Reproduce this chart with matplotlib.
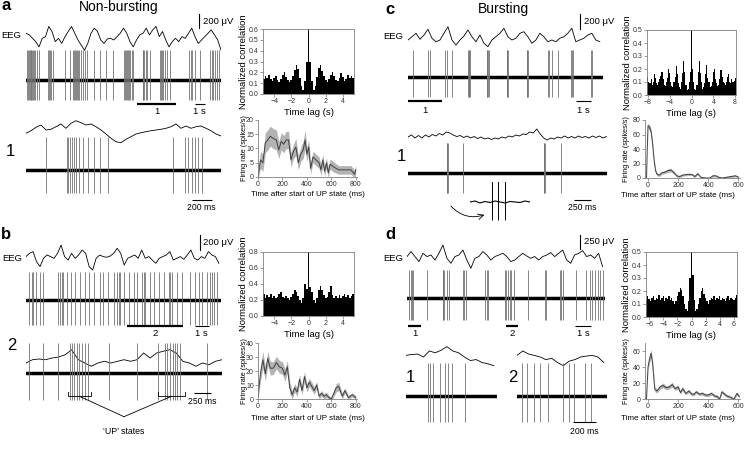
import numpy as np
import matplotlib
matplotlib.use("Agg")
import matplotlib.pyplot as plt

plt.rcParams['font.family'] = ['Liberation Sans', 'DejaVu Sans']

# ---------------- data ----------------
# EEG traces (uV), sampled every dt
eeg_a_top = [80, 57, 10, -37, -110, 10, 33, 176, 105, -37, 10, -62, 33, 105, 176, 80, -14, -86, -157, -62,
             80, 152, 105, -14, -62, 0, 10, -14, 33, 80, 152, 80, -37, -110, -14, 57, 80, 152, 57, 128,
             176, 33, 105, -14, -110, -37, 10, -37, 33, 10, 80, 152, 33, -62, -14, 33, 80, 128, 57, -14, -157]
eeg_a_low = [-46, -10, 38, 70, 0, 10, 46, 84, 24, 94, 130, 102, 70, 84, 46, 0, -56, -116, -164, -178,
             -130, -94, -56, -38, -24, -10, 0, 10, 24, 46, 84, 24, 56, 24, 46, 56, 24, -10, -56, -84]
eeg_b_top = [24, 70, 94, -46, -116, 0, 46, 24, 0, 70, 186, 24, -24, 70, 0, 46, 116, 70, -116, -164,
             0, 46, 24, 14, 32, 70, 140, 70, -94, 0, 24, 46, 0, 116, 0, 24, -24, -70, 0, 24,
             46, 94, -24, 0, 24, -14, 46, 116, 0, -24, 24, 0, 94, 46, 24, -70]
eeg_b_low = [-70, -24, -14, -24, 0, 14, 46, 116, -24, -70, -116, -70, -46, -70, -46, -24, -46, -24, 70, 0,
             70, 94, 116, 70, -46, -70, -116, -70, -94, -46, -24]
eeg_c_top = [-28, 18, 66, -18, 42, 122, -4, -52, -28, 66, 158, -28, -98, -28, 28, 112, 18, -52, 42, -74,
             -122, -28, 18, 66, 136, 18, -28, -4, 66, 88, 18, -74, -28, 66, 18, -52, -28, -52, -4, 18,
             66, 136, -52, -28, -4, 42, 66, -28, -52]
eeg_c_low = [0, 28, -14, 21, -14, 28, 0, 35, 14, 49, 28, 70, 56, 28, 7, 21, -7, 14, -14, 7,
             -21, 0, -28, -14, -35, -14, -28, 0, -14, 14, 0, 28, 14, 42, 35, 70, 56, 112, 42, -14,
             -42, -14, -28, 0, -14, 14, -14, 7, -14, 14, -7, 7, -14, 14, -7, 14, -14, 7]
eeg_d_top = [31, 121, 31, -59, 90, 31, 59, -31, 90, 239, 0, -90, 31, 59, 149, -31, -180, 0, 31, 121,
             59, -31, 31, 59, 90, 31, -59, -31, 31, 90, 41, 0, 31, -31, 31, 59, 103, 31, 90, 149,
             -31, -90, 59, 90, 139, 31, 59, 0, 90, -149]
eeg_d_low1 = [41, 54, 59, 18, 103, 77, 113, 162, 103, 77, 18, -31, -18, -59, -77, -103]
eeg_d_low2 = [41, 103, 59, 41, 18, -18, 0, -59, -103, -41, -18, 18, 31, 41, 18, -59]

# spike times (s for top traces, ms for expanded traces)
spk_a_top = [0.15, 0.25, 0.32, 0.4, 0.48, 0.55, 0.62, 0.72, 0.8, 0.95, 1.1, 1.3, 2.3, 2.4, 2.5, 2.6, 2.75,
             4.0, 4.5, 4.8, 4.9, 5.0, 5.1, 5.2, 5.3, 5.45, 5.6, 5.8, 6.0, 6.3, 7.0, 7.6, 8.2, 8.9,
             10.1, 10.2, 10.3, 10.4, 10.5, 10.6, 10.7, 10.85, 11.0, 11.95, 12.05, 12.15, 12.3, 12.45, 12.7,
             13.75, 13.85, 13.95, 14.1, 14.25, 14.5, 14.8, 16.75, 16.9, 17.05, 17.3, 17.85,
             18.9, 19.05, 19.2, 19.4, 19.6, 19.75]
spk_a_low = [197, 407, 423, 440, 457, 477, 497, 530, 573, 623, 683, 740, 823,
             1467, 1590, 1623, 1657, 1690, 1723, 1757]
spk_b_top = [0.24, 0.40, 0.52, 0.71, 1.0, 1.24, 2.31, 2.43, 2.55, 2.67, 2.90, 3.19, 3.50, 3.86, 4.21,
             4.52, 4.86, 5.29, 5.52, 5.88, 6.24, 6.48, 6.6, 6.71, 7.0, 7.31, 7.67, 7.9, 8.26, 8.38, 8.5,
             8.81, 9.1, 9.45, 9.81, 10.17, 10.29, 10.4, 10.76, 11.12, 11.71, 12.02, 12.31, 12.55,
             12.9, 13.1, 13.26, 13.38, 13.62]
spk_b_low = [51, 265, 495, 673, 699, 735, 776, 816, 852, 903, 954, 1276, 1694,
             2026, 2128, 2163, 2204, 2245, 2281, 2316, 2357, 2776]
spk_c_top = [0.33, 1.27, 1.375, 2.31, 2.46, 2.73, 3.76, 3.8, 3.84, 3.88, 4.92, 4.96, 5.0, 5.04,
             6.17, 6.21, 6.25, 7.42, 7.46, 7.5, 8.79, 8.83, 8.98, 9.4, 10.2, 10.24, 10.33, 11.46, 11.5]
spk_c_low = [555, 565, 575, 784, 1950, 1960, 1970, 2192]
spk_c_inset = [21.7, 28.3, 35.3]
inset_noise = [0, 1, -1, 0.5, -0.5, 1, 0, -1, 0.5, 0, -0.5, 1, 0]
spk_d_top = [0.146, 0.23, 0.31, 0.40, 1.27, 2.23, 2.26, 2.29, 2.48, 2.65, 3.52, 3.6, 3.69, 4.88, 4.98,
             5.08, 6.13, 6.23, 6.33, 6.44, 6.54, 6.69, 7.58, 8.625, 8.73, 9.56, 9.67, 9.77, 10.6,
             11.23, 11.44, 11.6, 11.77, 11.94, 12.1, 12.27]
spk_d_low1 = [191, 206, 229, 291, 334, 363, 391, 506]
spk_d_low2 = [43, 86, 143, 200, 266, 394, 451, 491, 586, 643]

# autocorrelograms, 0.2 s bins
acg_a = [0.14, 0.17, 0.15, 0.18, 0.14, 0.12, 0.15, 0.17, 0.13, 0.11, 0.14, 0.18, 0.2, 0.16, 0.13, 0.11,
         0.13, 0.17, 0.22, 0.27, 0.23, 0.15, 0.07, 0.04, 0.12, 0.3, 0.6, 0.3, 0.12, 0.04, 0.07, 0.16,
         0.24, 0.27, 0.21, 0.17, 0.13, 0.11, 0.14, 0.18, 0.2, 0.17, 0.13, 0.12, 0.15, 0.19, 0.16, 0.12,
         0.14, 0.18, 0.15, 0.17, 0.15]
acg_b = [0.28, 0.22, 0.26, 0.24, 0.27, 0.23, 0.25, 0.22, 0.24, 0.27, 0.3, 0.24, 0.22, 0.25, 0.23, 0.2,
         0.24, 0.28, 0.32, 0.3, 0.25, 0.2, 0.16, 0.22, 0.4, 0.34, 0.8, 0.36, 0.3, 0.2, 0.16, 0.22,
         0.32, 0.38, 0.33, 0.26, 0.22, 0.24, 0.3, 0.38, 0.26, 0.22, 0.25, 0.23, 0.26, 0.22, 0.25, 0.28,
         0.24, 0.26, 0.22, 0.25, 0.27]
acg_c = [0.14, 0.1, 0.09, 0.12, 0.08, 0.1, 0.16, 0.13, 0.09, 0.08, 0.1, 0.12, 0.15, 0.18, 0.12, 0.08,
         0.07, 0.1, 0.13, 0.2, 0.17, 0.1, 0.07, 0.06, 0.1, 0.14, 0.22, 0.16, 0.09, 0.06, 0.05, 0.1,
         0.17, 0.26, 0.18, 0.08, 0.04, 0.05, 0.1, 0.18, 0.5, 0.2, 0.1, 0.05, 0.04, 0.08, 0.18, 0.26,
         0.17, 0.1, 0.05, 0.06, 0.09, 0.16, 0.23, 0.13, 0.1, 0.06, 0.07, 0.1, 0.18, 0.2, 0.12, 0.09,
         0.07, 0.08, 0.12, 0.19, 0.14, 0.1, 0.09, 0.08, 0.1, 0.14, 0.16, 0.1, 0.09, 0.12, 0.1, 0.11, 0.13]
acg_d = [0.15, 0.13, 0.16, 0.14, 0.12, 0.15, 0.16, 0.13, 0.15, 0.14, 0.17, 0.13, 0.15, 0.16, 0.12, 0.15,
         0.14, 0.16, 0.13, 0.15, 0.12, 0.1, 0.12, 0.16, 0.19, 0.22, 0.21, 0.16, 0.1, 0.06, 0.05, 0.12,
         0.3, 0.5, 0.32, 0.13, 0.05, 0.06, 0.1, 0.15, 0.2, 0.22, 0.18, 0.15, 0.12, 0.1, 0.13, 0.15,
         0.14, 0.16, 0.13, 0.15, 0.14, 0.16, 0.13, 0.15, 0.14, 0.12, 0.15, 0.16, 0.13, 0.15, 0.14, 0.13,
         0.15, 0.17, 0.16]
acg_start = {'a': -5.2, 'b': -5.2, 'c': -8.0, 'd': -6.6}

# firing rate after UP-state onset: time (ms), mean, sem (spikes/s)
fr_a_t = [0, 20, 40, 60, 80, 100, 125, 150, 170, 190, 210, 230, 250, 270, 290, 310, 330, 350, 370, 385,
          400, 415, 430, 450, 475, 500, 515, 530, 545, 560, 575, 590, 620, 660, 700, 760, 790, 800]
fr_a_m = [0, 6, 5, 12, 13, 14.3, 13.5, 13, 9.5, 12.5, 11.5, 13, 13, 6, 9, 10.5, 5, 8, 9.5, 13,
          8, 10.5, 3, 7, 6, 5, 2.5, 6, 2, 5, 1.5, 4.5, 3.5, 2.5, 2.5, 2.5, 1, 2.5]
fr_a_s = [1, 3, 3, 3.5, 3.5, 3.5, 3.5, 3.5, 3, 3, 3, 3, 3, 2.5, 2.5, 3, 2.5, 2.5, 3, 3.5,
          2.5, 2.5, 2, 2, 2, 2, 2, 2, 1.8, 1.8, 1.8, 1.8, 1.8, 1.5, 1.5, 1.5, 1.5, 1.5]
fr_b_t = [0, 20, 40, 60, 80, 100, 125, 150, 175, 200, 220, 240, 260, 280, 300, 320, 340, 360, 380, 400,
          420, 440, 460, 480, 500, 520, 540, 560, 580, 600, 640, 660, 690, 710, 740, 770, 800]
fr_b_m = [2, 18, 28, 18, 29, 22, 22, 26, 23, 22, 17, 23, 8, 3, 8, 5, 14, 6, 16, 8,
          12, 9, 6, 10, 2, 4, 2, 3, 1, 0, 8, 9, 2, 6, 1, 3, 1]
fr_b_s = [2, 5, 6, 5, 5, 5, 4.5, 4.5, 4.5, 4.5, 4.5, 4.5, 4, 3, 3, 3, 3.5, 3, 3.5, 3,
          3, 3, 2.5, 2.5, 2, 2, 2, 2, 1.5, 1.5, 3, 3, 2, 2, 1.5, 1.5, 1.5]
fr_c_t = [-10, -5, 0, 10, 20, 30, 40, 50, 60, 75, 90, 110, 130, 150, 170, 190, 210, 230, 260, 290,
          310, 330, 350, 380, 410, 430, 450, 470, 490, 520, 550, 580, 600]
fr_c_m = [0, 40, 72, 70, 64, 48, 25, 10, 5, 4, 7, 8, 10, 11, 8, 3, 2, 4, 5, 5,
          2, 6, 1, 0, 0, 3, 3, 1, 0, 1, 2, 3, 1]
fr_c_s = [0, 3, 4, 4, 4, 3.5, 3, 2.5, 2, 2, 2, 2, 2.5, 2.5, 2, 1.5, 1.5, 1.5, 1.5, 1.5,
          1.5, 1.5, 1, 1, 1, 1.5, 1.5, 1, 1, 1, 1.5, 1.5, 1]
fr_d_t = [-10, 0, 10, 20, 30, 45, 60, 80, 100, 120, 140, 160, 180, 200, 215, 230, 250, 270, 290, 305,
          320, 340, 360, 380, 400, 420, 440, 460, 475, 490, 520, 550, 570, 590, 605]
fr_d_m = [0, 40, 50, 57, 45, 12, 10, 15, 17, 14, 15, 18, 13, 15, 8, 13, 7, 10, 6, 6,
          9, 6, 7, 5, 5, 7, 4, 3, 0, 9, 4, 2, 0, 7, 3]
fr_d_s = [0, 4, 5, 5, 4, 3, 2.5, 2.5, 3, 2.5, 2.5, 3, 2.5, 2.5, 2, 2.5, 2, 2, 2, 2,
          2, 2, 2, 2, 2, 2, 2, 2, 1.5, 2, 2, 1.5, 1.5, 2, 1.5]

# ---------------- layout helpers (pixel boxes) ----------------
W, H = 747, 457
fig = plt.figure(figsize=(W / 100, H / 100), dpi=100)


def box(x0, y0, x1, y1):
    return fig.add_axes([x0 / W, 1 - y1 / H, (x1 - x0) / W, (y1 - y0) / H])


def ftext(x, y, s, **kw):
    kw.setdefault('va', 'center')
    fig.text(x / W, 1 - y / H, s, **kw)


def eeg_trace(x0, x1, yc, T, vals, dt, uv_px=14):
    ax = box(x0, yc - 30, x1, yc + 30)
    ax.set_xlim(0, T)
    ax.set_ylim(-30 * uv_px, 30 * uv_px)
    ax.axis('off')
    ax.plot(np.arange(len(vals)) * dt, vals, color='k', lw=0.6)
    return ax


def spike_trace(x0, x1, yb, T, times, up=30, down=20):
    ax = box(x0, yb - 40, x1, yb + 40)
    ax.set_xlim(0, T)
    ax.set_ylim(-40, 40)
    ax.axis('off')
    ax.axhline(0, color='k', lw=2.5)
    ax.vlines(times, -down, up, color='0.45', lw=0.6)
    return ax


def hbar(ax, t0, length, y, label, lw=0.8, dy=8, fs=6.8):
    ax.plot([t0, t0 + length], [y, y], color='k', lw=lw, clip_on=False, solid_capstyle='butt')
    ax.text(t0 + length / 2, y - dy, label, ha='center', va='center', fontsize=fs)


def vbar(ax, t, lo, hi, label):
    ax.plot([t, t], [lo, hi], color='k', lw=0.8, clip_on=False)
    ax.text(t + (ax.get_xlim()[1] * 0.018), (lo + hi) / 2, label, ha='left', va='center', fontsize=6.8)


def style(ax):
    ax.tick_params(labelsize=5, length=2, width=0.5, pad=1, color='0.45', labelcolor='0.2')
    for sp in ax.spines.values():
        sp.set_linewidth(0.6)
        sp.set_color('0.5')


def acg(key, bx, vals, xlim, ylim, xticks, yticks, ylx):
    ax = box(*bx)
    lags = np.round(acg_start[key] + 0.2 * np.arange(len(vals)), 2)
    ax.bar(lags, vals, width=0.2, color='k', lw=0)
    ax.set_xlim(xlim)
    ax.set_ylim(ylim)
    ax.set_xticks(xticks)
    ax.set_yticks(yticks)
    ax.yaxis.set_major_formatter('{x:.1f}')
    ax.set_xlabel('Time lag (s)', fontsize=6.8, labelpad=2)
    ax.set_ylabel('Normalized correlation', fontsize=6.8)
    ax.yaxis.set_label_coords(ylx, 0.5)
    style(ax)
    return ax


def rate(bx, t, m, s, xlim, ylim, xticks, yticks, ylx, xlx, xly):
    ax = box(*bx)
    m, s = np.array(m), np.array(s)
    ax.fill_between(t, m - s, m + s, color='0.7', lw=0)
    ax.plot(t, m, color='0.25', lw=0.7)
    ax.set_xlim(xlim)
    ax.set_ylim(ylim)
    ax.set_xticks(xticks)
    ax.set_yticks(yticks)
    ax.spines['top'].set_visible(False)
    ax.spines['right'].set_visible(False)
    ax.set_xlabel('Time after start of UP state (ms)', fontsize=5.8)
    ax.xaxis.set_label_coords(xlx, xly)
    ax.set_ylabel('Firing rate (spikes/s)', fontsize=5.2)
    ax.yaxis.set_label_coords(ylx, 0.5)
    style(ax)
    return ax


# ---------------- panel a ----------------
ftext(1, 6, 'a', fontsize=12, weight='bold', ha='left')
ftext(118.5, 7, 'Non-bursting', fontsize=10, ha='center')
ftext(1.7, 35, 'EEG', fontsize=6.8, ha='left')
ax = eeg_trace(26, 221, 39, 20, eeg_a_top, 1 / 3)
vbar(ax, 17.77, 150, 350, '200 μV')
ax = spike_trace(26, 221, 80, 20, spk_a_top, 30, 20)
hbar(ax, 11.38, 4.0, -24, '1', lw=1.6)
hbar(ax, 17.33, 1.0, -24, '1 s')
ftext(10, 152, '1', fontsize=12, ha='center')
eeg_trace(26, 221, 130, 1950, eeg_a_low, 50)
ax = spike_trace(26, 221, 170, 1950, spk_a_low, 33, 23)
hbar(ax, 1657, 200, -30, '200 ms', fs=6.2)
acg('a', (263, 29, 354, 94), acg_a, (-5.3, 5.3), (0, 0.6), [-4, -2, 0, 2, 4],
    [0, 0.1, 0.2, 0.3, 0.4, 0.5, 0.6], -0.16)
rate((258, 120, 357, 177), fr_a_t, fr_a_m, fr_a_s, (0, 810), (0, 20), [0, 200, 400, 600, 800],
     [0, 5, 10, 15, 20], -0.106, 0.5, -0.25)

# ---------------- panel b ----------------
ftext(1, 234, 'b', fontsize=12, weight='bold', ha='left')
ftext(2, 258.3, 'EEG', fontsize=6.8, ha='left')
ax = eeg_trace(26, 221, 258.3, 13.9, eeg_b_top, 0.25)
vbar(ax, 12.38, 120, 320, '200 μV')
ax = spike_trace(26, 221, 300, 13.9, spk_b_top, 28, 25)
hbar(ax, 7.19, 4.0, -26, '2', lw=1.6)
hbar(ax, 12.02, 1.0, -26, '1 s')
ftext(12, 345, '2', fontsize=12, ha='center')
eeg_trace(26, 222, 358, 3000, eeg_b_low, 100)
ax = spike_trace(26, 222, 372.7, 3000, spk_b_low, 30, 27)
hbar(ax, 2575, 250, -20.5, '250 ms', fs=6.2)
up_states = [(638, 990), (2026, 2434)]
for t0, t1 in up_states:
    ax.plot([t0, t0, t1, t1], [-19, -23.5, -23.5, -19], color='k', lw=0.6, clip_on=False)
    ax.plot([(t0 + t1) / 2, 1500], [-23.5, -44], color='k', lw=0.6, clip_on=False)
ax.text(1500, -59, '‘UP’ states', ha='center', va='center', fontsize=6.3)
acg('b', (263, 252, 354, 316), acg_b, (-5.3, 5.3), (0, 0.8), [-4, -2, 0, 2, 4],
    [0, 0.2, 0.4, 0.6, 0.8], -0.16)
rate((258, 343, 357, 399), fr_b_t, fr_b_m, fr_b_s, (0, 810), (0, 40), [0, 200, 400, 600, 800],
     [0, 10, 20, 30, 40], -0.106, 0.5, -0.29)

# ---------------- panel c ----------------
ftext(385, 9, 'c', fontsize=12, weight='bold', ha='left')
ftext(503.5, 8.5, 'Bursting', fontsize=10, ha='center')
ftext(383.3, 36.7, 'EEG', fontsize=6.8, ha='left')
ax = eeg_trace(408, 603, 38, 12.2, eeg_c_top, 0.25)
vbar(ax, 10.79, 130, 330, '200 μV')
ax = spike_trace(408, 603, 77, 12.2, spk_c_top, 27, 20)
hbar(ax, 0.02, 2.08, -23.7, '1', lw=1.6, dy=9.5)
hbar(ax, 10.48, 1.0, -23.7, '1 s', dy=9.5)
ftext(401.7, 156.7, '1', fontsize=12, ha='center')
eeg_trace(408, 607, 137, 2860, eeg_c_low, 50)
ax_cl = spike_trace(408, 607, 173.3, 2860, spk_c_low, 30, 20)
hbar(ax_cl, 2380, 250, -26.7, '250 ms', fs=6.2)
ax_in = box(470, 182, 530, 222)
ax_in.set_xlim(0, 60)
ax_in.set_ylim(-20, 20)
ax_in.axis('off')
ax_in.plot(np.arange(len(inset_noise)) * 5, inset_noise, color='k', lw=0.8)
ax_in.vlines(spk_c_inset, -18, 22, color='k', lw=0.7)
ax_in.annotate('', xy=(17, -12), xycoords='data', xytext=(-21, -2),
               arrowprops=dict(arrowstyle='->', color='k', lw=0.6, connectionstyle='arc3,rad=0.35'))
acg('c', (647, 30, 736, 95), acg_c, (-8.15, 8.15), (0, 0.5), [-8, -4, 0, 4, 8],
    [0, 0.1, 0.2, 0.3, 0.4, 0.5], -0.172)
rate((645, 120, 740, 178), fr_c_t, fr_c_m, fr_c_s, (-20, 610), (0, 80), [0, 200, 400, 600],
     [0, 20, 40, 60, 80], -0.158, 0.345, -0.24)

# ---------------- panel d ----------------
ftext(385, 234, 'd', fontsize=12, weight='bold', ha='left')
ftext(383.3, 258.3, 'EEG', fontsize=6.8, ha='left')
ax = eeg_trace(407, 605, 258.3, 12.4, eeg_d_top, 0.25, uv_px=18)
vbar(ax, 10.86, 170, 420, '250 μV')
ax = spike_trace(407, 605, 298.3, 12.4, spk_d_top, 28, 22)
hbar(ax, 0.08, 0.78, -27.7, '1', lw=1.6)
hbar(ax, 6.19, 0.77, -27.7, '2', lw=1.6)
hbar(ax, 10.54, 1.0, -27.7, '1 s')
ftext(410, 377, '1', fontsize=12, ha='center')
ftext(513, 377, '2', fontsize=12, ha='center')
eeg_trace(406, 497, 358.3, 778, eeg_d_low1, 50)
spike_trace(406, 497, 395.7, 778, spk_d_low1, 33, 26)
eeg_trace(517, 607, 358.3, 778, eeg_d_low2, 50)
ax = spike_trace(517, 607, 395.7, 778, spk_d_low2, 33, 26)
hbar(ax, 485, 200, -26.6, '200 ms', fs=6.2, dy=9.4)
acg('d', (646, 252, 737, 317), acg_d, (-6.45, 6.45), (0, 0.5), [-6, -4, -2, 0, 2, 4, 6],
    [0, 0.1, 0.2, 0.3, 0.4, 0.5], -0.168)
rate((645, 343, 740, 399), fr_d_t, fr_d_m, fr_d_s, (-20, 610), (0, 70), [0, 200, 400, 600],
     [0, 20, 40, 60], -0.158, 0.345, -0.29)

fig.savefig('out.png', dpi=100)
